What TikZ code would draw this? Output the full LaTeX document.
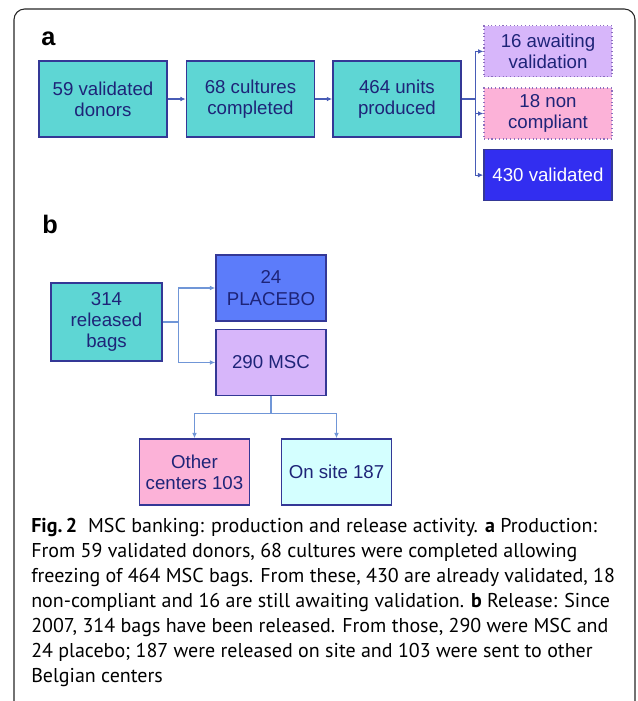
\documentclass[tikz,border=0pt]{standalone}
\usepackage{fontspec}
\setmainfont{Liberation Sans}
\newfontfamily\capfont{PT Sans}
\usepackage{xcolor}
\definecolor{TextNavy}{RGB}{30,36,120}
\definecolor{EdgeNavy}{RGB}{52,56,150}
\definecolor{EdgeDot}{RGB}{140,110,190}
\definecolor{FillTeal}{RGB}{94,214,212}
\definecolor{FillLilac}{RGB}{215,182,250}
\definecolor{FillPink}{RGB}{252,178,216}
\definecolor{FillDeep}{RGB}{50,46,240}
\definecolor{FillPlacebo}{RGB}{92,124,250}
\definecolor{FillIce}{RGB}{212,255,255}
\definecolor{LineA}{RGB}{72,92,182}
\definecolor{LineB}{RGB}{112,150,215}
\usepackage{tikz}
\usetikzlibrary{arrows.meta, positioning, calc}
\tikzset{
  % Plain box of the flow
  mbox/.style={
    rectangle, draw=EdgeNavy, line width=1.1pt,
    fill=FillTeal, text=TextNavy,
    align=center, inner sep=2pt,
    font=\fontsize{14}{16}\selectfont
  },
  % Box size variants
  mbox wide/.style={mbox, minimum width=96pt, minimum height=57pt},
  mbox side/.style={mbox, minimum width=96pt, minimum height=38.25pt},
  mbox small/.style={mbox, minimum width=82.5pt, minimum height=49.5pt},
  % Colour variants
  mbox lilac/.style={fill=FillLilac},
  mbox pink/.style={fill=FillPink},
  mbox dotted/.style={draw=EdgeDot, line width=0.8pt, dotted},
  % Arrows
  arrA/.style={-{Latex[length=4pt,width=3.5pt]}, line width=0.8pt, LineA},
  arrB/.style={-{Latex[length=4pt,width=3.5pt]}, line width=0.9pt, LineB},
  % Panel letter
  panel/.style={anchor=base west, inner sep=0pt, font=\fontsize{19}{19}\selectfont\bfseries},
}

\begin{document}
\begin{tikzpicture}[x=0.75pt, y=-0.75pt]

  \useasboundingbox (0,0) rectangle (637,701);

  %% frame
  \draw[black!85, line width=0.8pt, rounded corners=8pt]
    (14,701) -- (14,9) -- (635,9) -- (635,701);

  %% panel a
  \node[panel] (la) at (41,45) {a};

  \node[mbox wide] (donors) at (103,99) {59 validated\\donors};
  \node[mbox wide, right=13.5pt of donors] (cult) {68 cultures\\completed};
  \node[mbox wide, right=12.75pt of cult] (units) {464 units\\produced};

  \node[mbox side, mbox pink, mbox dotted] (noncomp) at (548,113.5) {18 non\\compliant};
  \node[mbox side, mbox lilac, mbox dotted, above=7.5pt of noncomp]
    (await) {16 awaiting\\validation};
  \node[mbox side, fill=FillDeep, text=white, below=7pt of noncomp]
    (valid) {430 validated};

  \coordinate (splitA) at ($(units.east)+(10.5pt,0)$);

  \draw[arrA] (donors) -- (cult);
  \draw[arrA] (cult)   -- (units);
  \draw[LineA, line width=0.8pt] (units.east) -- (splitA);
  \draw[arrA] (splitA) |- (await.west);
  \draw[arrA] (splitA) |- (noncomp.west);
  \draw[arrA] (splitA) |- (valid.west);

  %% panel b
  \node[panel] (lb) at (42,233) {b};

  \node[mbox, minimum width=83.25pt, minimum height=58.5pt]
    (bags) at (106.5,322) {314\\released\\bags};
  \node[mbox small, fill=FillPlacebo] (placebo) at (271,288) {24\\PLACEBO};
  \node[mbox small, mbox lilac, below=5.25pt of placebo] (msc) {290 MSC};

  \node[mbox small, mbox pink] (other) at (194.5,472) {Other\\centers 103};
  \node[mbox small, fill=FillIce] (onsite) at (336.5,472) {On site 187};

  \coordinate (splitB) at ($(bags.east)+(12pt,0)$);
  \coordinate (splitC) at ($(msc.south)+(0,-12.75pt)$);

  \draw[LineB, line width=0.9pt] (bags.east) -- (splitB);
  \draw[arrB] (splitB) |- (placebo.west);
  \draw[arrB] (splitB) |- (msc.west);
  \draw[LineB, line width=0.9pt] (msc.south) -- (splitC);
  \draw[arrB] (splitC) -| (other.north);
  \draw[arrB] (splitC) -| (onsite.north);

  %% caption (base = last line)
  \node[anchor=base west, inner sep=0pt, align=left,
        font=\capfont\fontsize{15}{18.75}\selectfont] (cap) at (31,682)
    {\textbf{Fig.\,2}\hspace{0.55em}MSC banking: production and release activity. \textbf{a} Production:\\
     From 59 validated donors, 68 cultures were completed allowing\\
     freezing of 464 MSC bags. From these, 430 are already validated, 18\\
     non-compliant and 16 are still awaiting validation. \textbf{b} Release: Since\\
     2007, 314 bags have been released. From those, 290 were MSC and\\
     24 placebo; 187 were released on site and 103 were sent to other\\
     Belgian centers};

\end{tikzpicture}
\end{document}
